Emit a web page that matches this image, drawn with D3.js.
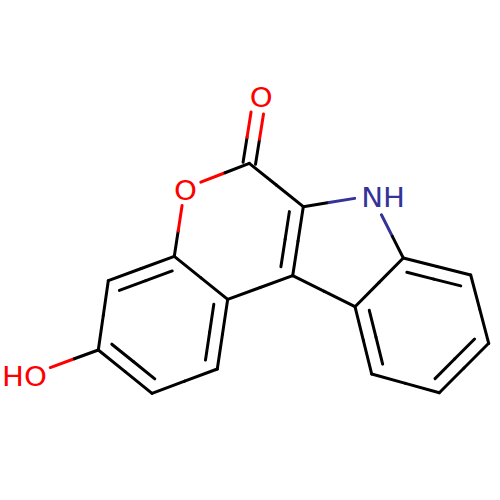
<!DOCTYPE html>
<html>
<head>
<meta charset="utf-8">
<title>Molecule</title>
<script src="https://d3js.org/d3.v7.min.js"></script>
<style>
  html, body { margin: 0; padding: 0; background: #fff; }
  svg { display: block; }
</style>
</head>
<body>
<div id="chart"></div>
<script>
// atom positions, in drawing units (y grows downwards)
const atomX = [3.4, 9.83, 15.2, 21.73, 22.77, 17.43, 10.83, 18.47, 24.93, 26.0, 30.33, 29.27, 37.17, 40.33, 35.5, 47.07, 48.87, 43.93, 37.17];
const atomY = [37.35, 35.0, 39.33, 36.9, 29.93, 25.63, 28.07, 18.85, 16.33, 9.6, 20.67, 27.57, 19.56, 25.8, 30.67, 27.5, 34.33, 39.27, 37.4];
const atomElement = ["O", "C", "C", "C", "C", "C", "C", "O", "C", "O", "C", "C", "N", "C", "C", "C", "C", "C", "C"];

const bondFrom = [0, 1, 2, 3, 4, 5, 6, 5, 7, 8, 8, 10, 11, 10, 12, 13, 14, 13, 15, 16, 17, 18];
const bondTo = [1, 2, 3, 4, 5, 6, 1, 7, 8, 9, 10, 11, 4, 12, 13, 14, 11, 15, 16, 17, 18, 14];
const bondOrder = [1, 2, 1, 2, 1, 2, 1, 1, 1, 2, 1, 2, 1, 1, 1, 1, 1, 2, 1, 2, 1, 2];

const rings = [
    [1, 2, 3, 4, 5, 6],
    [4, 5, 7, 8, 10, 11],
    [10, 11, 14, 13, 12],
    [13, 14, 18, 17, 16, 15],
];

const labels = [
    {atom: 0, text: "HO", dx: -9.5, dy: 3.5},
    {atom: 7, text: "O", dx: 0.7, dy: 2},
    {atom: 9, text: "O", dx: 1.3, dy: 2},
    {atom: 12, text: "NH", dx: 11.3, dy: 2.5},
];

const elementColor = {C: "#000000", O: "#FF0000", N: "#333399"};

const width = 500, height = 500;
const x = d3.scaleLinear().domain([0, 50]).range([0, width]);
const y = d3.scaleLinear().domain([0, 50]).range([0, height]);

const ringGap = 13;      // inner line of a ring double bond
const carbonylGap = 6.3; // half distance of a free double bond
const shorten = 0.1;     // inner line is a bit shorter at both ends

function atomPos(i) {
    return [x(atomX[i]), y(atomY[i])];
}

// how far a bond stops before an atom label
function labelGap(i, other) {
    if (atomElement[i] === "C") return 0;
    if (atomElement[i] === "N" && atomX[other] > atomX[i]) return 21.5;
    return 17.3;
}

// splits one line in two halves, coloured after the atom on that side
function halves(p, q, a, b) {
    const mid = [(p[0] + q[0]) / 2, (p[1] + q[1]) / 2];
    return [
        {p: p, q: mid, color: elementColor[atomElement[a]]},
        {p: mid, q: q, color: elementColor[atomElement[b]]},
    ];
}

var segments = [];
bondFrom.forEach(function(a, i) {
    const b = bondTo[i];
    const pa = atomPos(a), pb = atomPos(b);
    const len = Math.hypot(pb[0] - pa[0], pb[1] - pa[1]);
    const ux = (pb[0] - pa[0]) / len, uy = (pb[1] - pa[1]) / len;
    const nx = -uy, ny = ux;
    const ga = labelGap(a, b), gb = labelGap(b, a);
    const start = [pa[0] + ux * ga, pa[1] + uy * ga];
    const end = [pb[0] - ux * gb, pb[1] - uy * gb];

    if (bondOrder[i] === 1) {
        segments.push(...halves(start, end, a, b));
        return;
    }

    const ring = rings.find(r => r.includes(a) && r.includes(b));
    if (!ring) {
        // free double bond, two lines either side of the axis
        [-1, 1].forEach(function(s) {
            const off = s * carbonylGap;
            segments.push(...halves(
                [start[0] + nx * off, start[1] + ny * off],
                [end[0] + nx * off, end[1] + ny * off], a, b));
        });
        return;
    }

    // ring double bond, second line goes on the side of the ring centre
    const cx = d3.mean(ring, k => atomPos(k)[0]);
    const cy = d3.mean(ring, k => atomPos(k)[1]);
    const side = (cx - pa[0]) * nx + (cy - pa[1]) * ny > 0 ? 1 : -1;
    const off = side * ringGap, cut = len * shorten;
    segments.push(...halves(start, end, a, b));
    segments.push(...halves(
        [pa[0] + ux * cut + nx * off, pa[1] + uy * cut + ny * off],
        [pb[0] - ux * cut + nx * off, pb[1] - uy * cut + ny * off], a, b));
});

var svg = d3.select("#chart").append("svg")
    .attr("width", width)
    .attr("height", height);

svg.append("rect")
    .attr("width", width)
    .attr("height", height)
    .attr("fill", "#fff");

svg.append("g")
    .selectAll("line")
    .data(segments)
    .enter()
    .append("line")
    .attr("x1", d => d.p[0])
    .attr("y1", d => d.p[1])
    .attr("x2", d => d.q[0])
    .attr("y2", d => d.q[1])
    .attr("stroke", d => d.color)
    .attr("stroke-width", 3)
    .attr("stroke-linecap", "round");

svg.append("g")
    .selectAll("text")
    .data(labels)
    .enter()
    .append("text")
    .attr("transform", function(d) {
        const p = atomPos(d.atom);
        return "translate(" + (p[0] + d.dx) + "," + (p[1] + d.dy) + ") scale(1.08,1)";
    })
    .attr("text-anchor", "middle")
    .attr("dominant-baseline", "central")
    .attr("font-family", "DejaVu Sans")
    .attr("font-size", 27)
    .attr("fill", d => elementColor[atomElement[d.atom]])
    .text(d => d.text);
</script>
</body>
</html>
